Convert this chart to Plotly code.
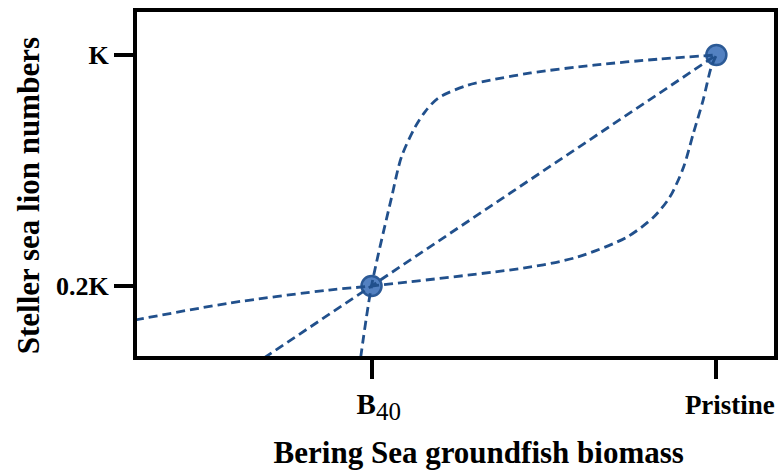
import plotly.graph_objects as go

# Data (x: fraction of pristine biomass, y: fraction of K)
x_straight = [0.213, 0.4, 1.0]
y_straight = [-0.049, 0.2, 1.0]

x_upper = [0.381, 0.4, 0.435, 0.452, 0.476, 0.493, 0.516, 0.568, 0.607, 0.677, 0.787, 0.901, 1.0]
y_upper = [-0.049, 0.2, 0.508, 0.647, 0.751, 0.803, 0.851, 0.896, 0.913, 0.938, 0.965, 0.986, 1.0]

x_lower = [-0.012, 0.153, 0.326, 0.4, 0.677, 0.758, 0.844, 0.891, 0.919, 0.943, 0.960, 0.977, 0.991, 1.0]
y_lower = [0.082, 0.141, 0.186, 0.2, 0.266, 0.300, 0.369, 0.439, 0.508, 0.612, 0.729, 0.844, 0.958, 1.0]

x_points = [0.4, 1.0]
y_points = [0.2, 1.0]

x_tickvals = [0.4, 1.0]
x_ticktext = ["&nbsp;&nbsp;<b>B</b><sub><span style='font-size:25px'>40</span></sub>",
              "<span style='font-size:27px'>&nbsp;&nbsp;&nbsp;&nbsp;<b>Pristine</b></span>"]
y_tickvals = [0.2, 1.0]
y_ticktext = ["<b>0.2K</b>", "<b>K</b>"]

LINE_COLOR = "#21508c"
FONT = "Liberation Serif"

fig = go.Figure()
fig.add_trace(go.Scatter(
    x=x_points, y=y_points, mode="markers",
    marker=dict(size=20, color="rgba(74,122,190,0.95)", line=dict(color="#2c5a96", width=2.5)),
    hoverinfo="skip", showlegend=False, cliponaxis=False))
for xs, ys, shape in [(x_straight, y_straight, "linear"),
                      (x_upper, y_upper, "spline"),
                      (x_lower, y_lower, "spline")]:
    fig.add_trace(go.Scatter(
        x=xs, y=ys, mode="lines",
        line=dict(color=LINE_COLOR, width=2.8, dash="9px,5px", shape=shape, smoothing=0.8),
        hoverinfo="skip", showlegend=False))

axis_common = dict(showline=True, linecolor="black", linewidth=4, mirror=True,
                   showgrid=False, zeroline=False, ticks="outside", ticklen=19,
                   tickwidth=4, tickcolor="black")

fig.update_xaxes(range=[-0.0081, 1.1003], tickvals=x_tickvals, ticktext=x_ticktext,
                 tickfont=dict(family=FONT, size=29, color="black"),
                 title=dict(text="&nbsp;&nbsp;&nbsp;&nbsp;&nbsp;&nbsp;<b>Bering Sea groundfish biomass</b>",
                            font=dict(family=FONT, size=31, color="black"), standoff=18),
                 **axis_common)
fig.update_yaxes(range=[-0.0424, 1.149], tickvals=y_tickvals, ticktext=y_ticktext,
                 tickfont=dict(family=FONT, size=26, color="black"),
                 title=dict(text="<b>Steller sea lion numbers</b>&nbsp;&nbsp;&nbsp;",
                            font=dict(family=FONT, size=31, color="black"), standoff=8),
                 **axis_common)

fig.update_layout(width=783, height=470, margin=dict(l=137, r=5, t=12, b=114),
                  plot_bgcolor="white", paper_bgcolor="white")

fig.write_html("out.html", config={"displayModeBar": False},
               post_script="document.body.style.margin='0px';")
